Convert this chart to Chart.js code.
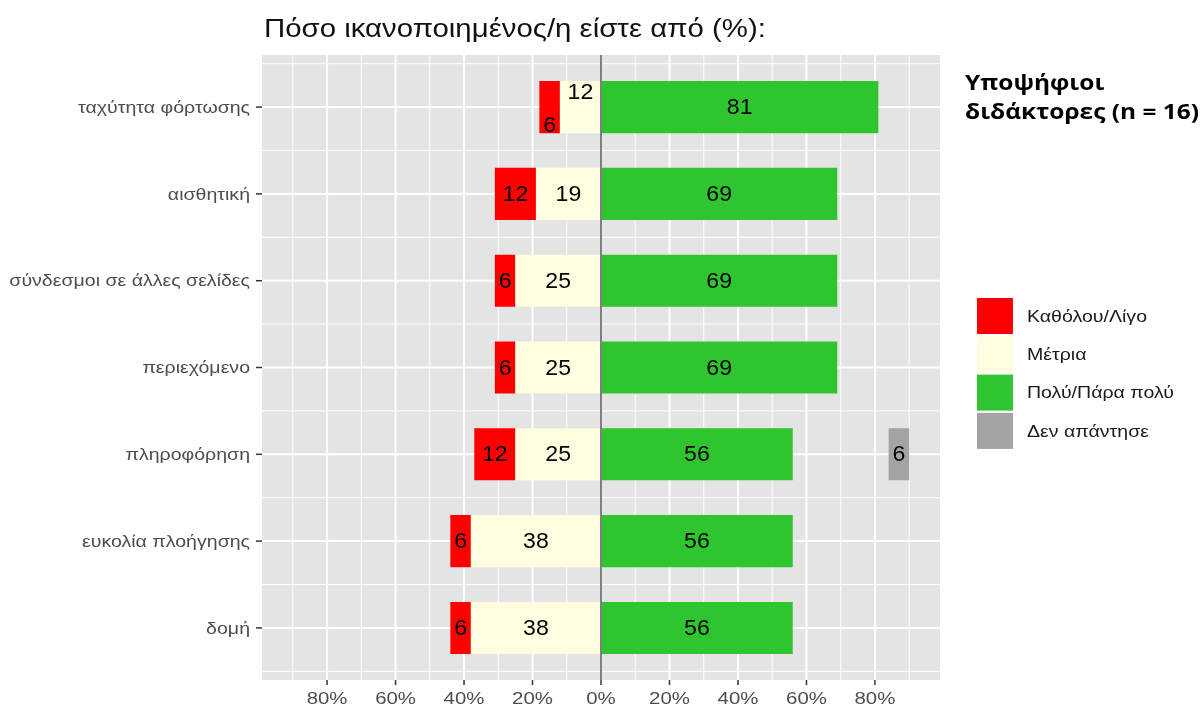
<!DOCTYPE html>
<html>
<head>
<meta charset="utf-8">
<script src="https://cdn.jsdelivr.net/npm/chart.js@4.4.0/dist/chart.umd.min.js"></script>
<style>
html,body{margin:0;padding:0;background:#ffffff;}
#wrap{width:1201px;height:711px;position:relative;}
</style>
</head>
<body>
<div id="wrap"><canvas id="c" width="1201" height="711"></canvas></div>
<script>
// ---------------- DATA ----------------
const categories = ['ταχύτητα φόρτωσης','αισθητική','σύνδεσμοι σε άλλες σελίδες','περιεχόμενο','πληροφόρηση','ευκολία πλοήγησης','δομή'];
const little   = [6, 12, 6, 6, 12, 6, 6];        // Καθόλου/Λίγο
const moderate = [12, 19, 25, 25, 25, 38, 38];   // Μέτρια
const much     = [81, 69, 69, 69, 56, 56, 56];   // Πολύ/Πάρα πολύ
const noAnswer = [0, 0, 0, 0, 6, 0, 0];          // Δεν απάντησε
const xTickValues = [-80, -60, -40, -20, 0, 20, 40, 60, 80];
const seriesNames = ['Καθόλου/Λίγο', 'Μέτρια', 'Πολύ/Πάρα πολύ', 'Δεν απάντησε'];
const titleText = 'Πόσο ικανοποιημένος/η είστε από (%):';
const sideText = ['Υποψήφιοι', 'διδάκτορες (n = 16)'];

// ---------------- STYLE ----------------
const COLORS = { little: '#FF0000', moderate: '#FFFDE0', much: '#2EC52E', na: '#A3A3A3' };
const PANEL = '#E4E4E4';
const NA_START = 84;
const FONT = "'Liberation Sans', Arial, sans-serif";
const STRETCH = 1.15;

const datasets = [
  { label: seriesNames[1], data: moderate.map(v => -v), backgroundColor: COLORS.moderate, stack: 's', _vals: moderate, _key: 'moderate' },
  { label: seriesNames[0], data: little.map(v => -v), backgroundColor: COLORS.little, stack: 's', _vals: little, _key: 'little' },
  { label: seriesNames[2], data: much, backgroundColor: COLORS.much, stack: 's', _vals: much, _key: 'much' },
  { label: seriesNames[3], data: noAnswer.map(v => v ? [NA_START, NA_START + v] : null), backgroundColor: COLORS.na, stack: 'na', grouped: false, _vals: noAnswer, _key: 'na' }
];
const legendOrder = [
  { label: seriesNames[0], color: COLORS.little },
  { label: seriesNames[1], color: COLORS.moderate },
  { label: seriesNames[2], color: COLORS.much },
  { label: seriesNames[3], color: COLORS.na }
];

function stretchText(ctx, text, x, y, align, sx) {
  ctx.save();
  ctx.translate(x, y);
  ctx.scale(sx, 1);
  ctx.textAlign = align;
  ctx.fillText(text, 0, 0);
  ctx.restore();
}

const panelPlugin = {
  id: 'panel',
  beforeDatasetsDraw(chart) {
    const ctx = chart.ctx;
    const { left, right, top, bottom } = chart.chartArea;
    const xs = chart.scales.x, ys = chart.scales.y;
    ctx.save();
    ctx.fillStyle = PANEL;
    ctx.fillRect(left, top, right - left, bottom - top);
    ctx.strokeStyle = '#FFFFFF';
    // vertical minor lines
    ctx.lineWidth = 1;
    for (let i = 0; i < xTickValues.length - 1; i++) {
      const v = (xTickValues[i] + xTickValues[i + 1]) / 2;
      const x = xs.getPixelForValue(v);
      ctx.beginPath(); ctx.moveTo(x, top); ctx.lineTo(x, bottom); ctx.stroke();
    }
    [xTickValues[0] - 10, xTickValues[xTickValues.length - 1] + 10].forEach(v => {
      const x = xs.getPixelForValue(v);
      if (x > left && x < right) { ctx.beginPath(); ctx.moveTo(x, top); ctx.lineTo(x, bottom); ctx.stroke(); }
    });
    // horizontal minor lines
    for (let i = -1; i < categories.length; i++) {
      const y = ys.getPixelForValue(i + 0.5);
      if (y > top && y < bottom) { ctx.beginPath(); ctx.moveTo(left, y); ctx.lineTo(right, y); ctx.stroke(); }
    }
    // major lines
    ctx.lineWidth = 2;
    xTickValues.forEach(v => {
      const x = xs.getPixelForValue(v);
      ctx.beginPath(); ctx.moveTo(x, top); ctx.lineTo(x, bottom); ctx.stroke();
    });
    for (let i = 0; i < categories.length; i++) {
      const y = ys.getPixelForValue(i);
      ctx.beginPath(); ctx.moveTo(left, y); ctx.lineTo(right, y); ctx.stroke();
    }
    ctx.restore();
  },
  afterDatasetsDraw(chart) {
    const ctx = chart.ctx;
    const { top, bottom } = chart.chartArea;
    const xs = chart.scales.x;
    ctx.save();
    // zero line
    const x0 = xs.getPixelForValue(0);
    ctx.strokeStyle = '#7F7F7F';
    ctx.lineWidth = 2;
    ctx.beginPath(); ctx.moveTo(x0, top); ctx.lineTo(x0, bottom); ctx.stroke();
    // value labels
    ctx.font = '22px ' + FONT;
    ctx.fillStyle = '#000000';
    ctx.textAlign = 'center';
    ctx.textBaseline = 'middle';
    const modIdx = chart.data.datasets.findIndex(d => d._key === 'moderate');
    const modMeta = chart.getDatasetMeta(modIdx);
    chart.data.datasets.forEach((ds, di) => {
      const meta = chart.getDatasetMeta(di);
      meta.data.forEach((el, i) => {
        const v = ds._vals[i];
        if (!v) return;
        let y = el.y;
        const modEl = modMeta.data[i];
        const narrow = modEl && Math.abs(modEl.x - modEl.base) < 45;
        if (narrow && ds._key === 'moderate') y -= 15;
        if (narrow && ds._key === 'little') y += 18;
        stretchText(ctx, String(v), (el.x + el.base) / 2, y + 1, 'center', 1.05);
      });
    });
    ctx.restore();
  },
  afterDraw(chart) {
    const ctx = chart.ctx;
    const { left, bottom } = chart.chartArea;
    const xs = chart.scales.x, ys = chart.scales.y;
    ctx.save();
    // axis tick marks
    ctx.strokeStyle = '#333333';
    ctx.lineWidth = 1.5;
    xTickValues.forEach(v => {
      const x = xs.getPixelForValue(v);
      ctx.beginPath(); ctx.moveTo(x, bottom); ctx.lineTo(x, bottom + 5); ctx.stroke();
    });
    categories.forEach((c, i) => {
      const y = ys.getPixelForValue(i);
      ctx.beginPath(); ctx.moveTo(left - 6, y); ctx.lineTo(left, y); ctx.stroke();
    });
    // axis tick labels
    ctx.font = '17px ' + FONT;
    ctx.fillStyle = '#4D4D4D';
    ctx.textBaseline = 'middle';
    xTickValues.forEach(v => {
      stretchText(ctx, Math.abs(v) + '%', xs.getPixelForValue(v), bottom + 19, 'center', 1.2);
    });
    categories.forEach((c, i) => {
      stretchText(ctx, c, left - 12, ys.getPixelForValue(i) + 1, 'right', STRETCH);
    });
    // title
    ctx.fillStyle = '#111111';
    ctx.font = '26px ' + FONT;
    ctx.textBaseline = 'alphabetic';
    stretchText(ctx, titleText, left + 2, 37, 'left', 1.13);
    // side text
    const fam = "'Open Sans', 'Noto Sans', sans-serif";
    ctx.font = 'bold 21px ' + fam;
    const w2 = ctx.measureText(sideText[1]).width;
    const sx = Math.min(1.3, 234 / w2);
    ctx.fillStyle = '#000000';
    stretchText(ctx, sideText[0], 965, 90, 'left', sx);
    stretchText(ctx, sideText[1], 965, 119, 'left', sx);
    // legend
    ctx.font = '17px ' + FONT;
    ctx.textBaseline = 'middle';
    legendOrder.forEach((item, i) => {
      const y = 298 + i * 38.3;
      ctx.fillStyle = item.color;
      ctx.fillRect(977, y, 36, 36);
      ctx.fillStyle = '#1A1A1A';
      stretchText(ctx, item.label, 1027, y + 19, 'left', STRETCH);
    });
    ctx.restore();
  }
};

new Chart(document.getElementById('c'), {
  type: 'bar',
  data: { labels: categories, datasets: datasets },
  options: {
    responsive: false,
    animation: false,
    devicePixelRatio: 1,
    indexAxis: 'y',
    layout: { padding: { left: 0, right: 261, top: 55, bottom: 0 } },
    datasets: { bar: { barPercentage: 0.6, categoryPercentage: 1, borderWidth: 0 } },
    plugins: { legend: { display: false }, tooltip: { enabled: false }, title: { display: false } },
    scales: {
      x: {
        type: 'linear', stacked: true, min: -99, max: 99,
        afterBuildTicks: s => { s.ticks = xTickValues.map(v => ({ value: v })); },
        afterFit: s => { s.height = 31; },
        grid: { display: false },
        border: { display: false },
        ticks: { display: false }
      },
      y: {
        type: 'category', offset: true,
        afterBuildTicks: s => { s._startValue -= 0.1; s._valueRange += 0.2; },
        afterFit: s => { s.width = 262; },
        grid: { display: false },
        border: { display: false },
        ticks: { display: false }
      }
    }
  },
  plugins: [panelPlugin]
});
</script>
</body>
</html>
